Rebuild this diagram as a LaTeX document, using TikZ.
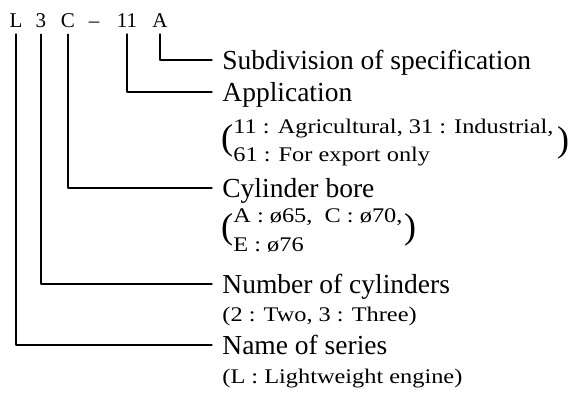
\documentclass[tikz,border=0pt]{standalone}
\usepackage{fontspec}
\setmainfont{Liberation Serif}
\newfontfamily\notefont[FakeStretch=1.17]{Liberation Serif}
\tikzset{
  every picture/.append style={line cap=round,line join=round},
  code char/.style={font=\fontsize{10.5}{12}\selectfont,inner sep=0pt,outer ysep=3.5pt,anchor=base},
  code lead/.style={line width=0.6pt},
  code label/.style={font=\fontsize{13.75}{16}\selectfont,anchor=west,inner xsep=5pt,inner ysep=0pt,text height=9.1pt,text depth=0pt},
  code note/.style={font=\notefont\fontsize{10.4}{12}\selectfont,anchor=base west,inner sep=0pt,text height=7.2pt,text depth=1.6pt},
  code paren/.style={font=\fontsize{18}{20}\selectfont,inner sep=0pt}
}
\begin{document}
\begin{tikzpicture}[x=0.5pt,y=-0.5pt]
  \useasboundingbox (0,0) rectangle (582,398);
  \foreach \name/\x/\t in {cL/16/L,c3/41/3,cC/68/C,cDash/94/{--},c11/127/11,cA/160/A}
    \node[code char] (\name) at (\x,27) {\t};
  \node[code label] (subdiv) at (212,60) {Subdivision of specification};
  \node[code label] (applic) at (212,92) {Application};
  \node[code label] (bore) at (212,188) {Cylinder bore};
  \node[code label] (cyls) at (212,284) {Number of cylinders};
  \node[code label] (series) at (212,345) {Name of series};
  \foreach \c/\l in {cA/subdiv,c11/applic,cC/bore,c3/cyls,cL/series}
    \draw[code lead] (\c.south) |- (\l.west);
  \node[code paren] (applicOpen) at (227,141) {(};
  \node[code note] (agri) at (233,133) {11 : Agricultural, 31 : Industrial,};
  \node[code note] (export) at (233,161) {61 : For export only};
  \node[code paren] (applicClose) at (563,143) {)};
  \node[code paren] (boreOpen) at (227,230) {(};
  \node[code note] (boreAC) at (233,222) {A : ø65,\ \ C : ø70,};
  \node[code note] (boreE) at (233,251) {E : ø76};
  \node[code paren] (boreClose) at (410,230) {)};
  \node[code note] (cylsNote) at (222,321) {(2 : Two, 3 : Three)};
  \node[code note] (seriesNote) at (222,383) {(L : Lightweight engine)};
\end{tikzpicture}
\end{document}
